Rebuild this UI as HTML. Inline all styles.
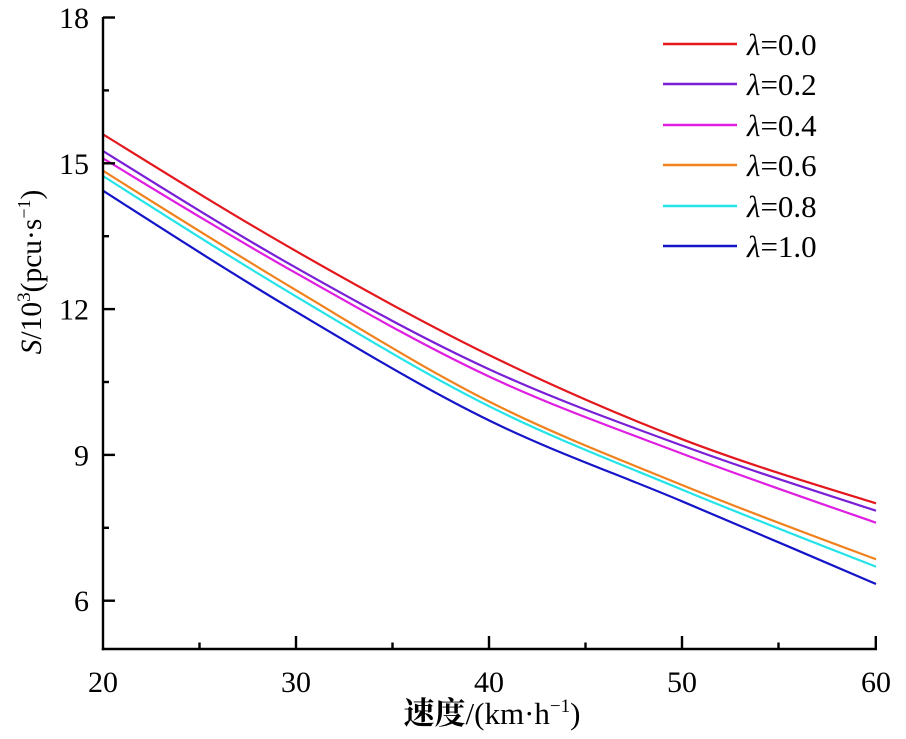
<!DOCTYPE html>
<html><head><meta charset="utf-8"><style>
html,body{margin:0;padding:0;background:#fff;}
svg{display:block;}
text{font-family:"Liberation Serif","Noto Serif CJK SC",serif;fill:#000;}
</style></head><body>
<svg width="906" height="739" viewBox="0 0 906 739" xmlns="http://www.w3.org/2000/svg">
<g fill="none" stroke-width="2.2" stroke-linejoin="round" stroke-linecap="butt">
<path stroke="#e3171c" d="M103,134.3 C167.4,174.3 231.6,214.3 296,251.1 C360.4,287.9 424.6,323.65 489,355 C553.4,386.35 617.6,414.5 682,439.2 C746.4,463.9 811.6,483.6 876,503.3"/>
<path stroke="#7a1fd6" d="M103,151 C167.4,191.17 231.6,231.33 296,267.7 C360.4,304.07 424.6,339.57 489,369.2 C553.4,398.83 617.6,421.92 682,445.5 C746.4,469.08 811.6,489.89 876,510.7"/>
<path stroke="#e01ee2" d="M103,158.3 C167.4,197.52 231.6,236.73 296,273.1 C360.4,309.47 424.6,346.42 489,376.5 C553.4,406.58 617.6,429.23 682,453.6 C746.4,477.97 811.6,500.33 876,522.7"/>
<path stroke="#f0821e" d="M103,170.7 C167.4,211.22 231.6,251.73 296,290.2 C360.4,328.67 424.6,369.03 489,401.5 C553.4,433.97 617.6,458.7 682,485 C746.4,511.3 811.6,535.3 876,559.3"/>
<path stroke="#24e4e8" d="M103,176 C167.4,217.02 231.6,258.03 296,296.4 C360.4,334.77 424.6,374 489,406.2 C553.4,438.4 617.6,462.85 682,489.6 C746.4,516.35 811.6,541.53 876,566.7"/>
<path stroke="#1414c8" d="M103,190.7 C167.4,232.06 231.6,273.42 296,311.7 C360.4,349.98 424.6,388.8 489,420.4 C553.4,452 617.6,474.03 682,501.3 C746.4,528.57 811.6,556.28 876,584"/>
</g>
<g stroke="#000" stroke-width="2.4" fill="none">
<line x1="103" y1="17" x2="103" y2="650.2"/>
<line x1="101.8" y1="649" x2="877" y2="649"/>
<line x1="103" y1="17.5" x2="115" y2="17.5"/>
<line x1="103" y1="163.3" x2="115" y2="163.3"/>
<line x1="103" y1="309.1" x2="115" y2="309.1"/>
<line x1="103" y1="454.9" x2="115" y2="454.9"/>
<line x1="103" y1="600.7" x2="115" y2="600.7"/>
<line x1="103" y1="90.4" x2="109" y2="90.4"/>
<line x1="103" y1="236.2" x2="109" y2="236.2"/>
<line x1="103" y1="382" x2="109" y2="382"/>
<line x1="103" y1="527.8" x2="109" y2="527.8"/>
<line x1="296" y1="649" x2="296" y2="636"/>
<line x1="489" y1="649" x2="489" y2="636"/>
<line x1="682" y1="649" x2="682" y2="636"/>
<line x1="875.8" y1="650" x2="875.8" y2="636"/>
<line x1="199.5" y1="649" x2="199.5" y2="642.5"/>
<line x1="392.5" y1="649" x2="392.5" y2="642.5"/>
<line x1="585.5" y1="649" x2="585.5" y2="642.5"/>
<line x1="778.5" y1="649" x2="778.5" y2="642.5"/>
</g>
<g font-size="30" text-anchor="end">
<text x="89" y="28">18</text>
<text x="89" y="173.8">15</text>
<text x="89" y="319.6">12</text>
<text x="89" y="465.4">9</text>
<text x="89" y="611.2">6</text>
</g>
<g font-size="30" text-anchor="middle">
<text x="103" y="692">20</text>
<text x="296" y="692">30</text>
<text x="489" y="692">40</text>
<text x="682" y="692">50</text>
<text x="876" y="692">60</text>
</g>
<text x="492" y="724" font-size="31" text-anchor="middle"><tspan font-family="Noto Serif CJK SC, serif" font-weight="bold">速度</tspan>/(km·h<tspan font-size="19" dy="-12">−1</tspan><tspan dy="12">)</tspan></text>
<text transform="translate(41,272) rotate(-90)" font-size="29.5" text-anchor="middle"><tspan font-style="italic">S</tspan>/10<tspan font-size="19" dy="-11">3</tspan><tspan dy="11">(pcu·s</tspan><tspan font-size="18" dy="-11">−1</tspan><tspan dy="11">)</tspan></text>
<g stroke-width="2.5">
<line x1="663" y1="44" x2="737" y2="44" stroke="#e3171c"/>
<line x1="663" y1="84" x2="737" y2="84" stroke="#7a1fd6"/>
<line x1="663" y1="125" x2="737" y2="125" stroke="#e01ee2"/>
<line x1="663" y1="165" x2="737" y2="165" stroke="#f0821e"/>
<line x1="663" y1="206" x2="737" y2="206" stroke="#24e4e8"/>
<line x1="663" y1="246" x2="737" y2="246" stroke="#1414c8"/>
</g>
<g font-size="31">
<text x="747" y="55"><tspan font-style="italic">λ</tspan>=0.0</text>
<text x="747" y="95"><tspan font-style="italic">λ</tspan>=0.2</text>
<text x="747" y="136"><tspan font-style="italic">λ</tspan>=0.4</text>
<text x="747" y="176"><tspan font-style="italic">λ</tspan>=0.6</text>
<text x="747" y="217"><tspan font-style="italic">λ</tspan>=0.8</text>
<text x="747" y="257"><tspan font-style="italic">λ</tspan>=1.0</text>
</g>
</svg>
</body></html>
